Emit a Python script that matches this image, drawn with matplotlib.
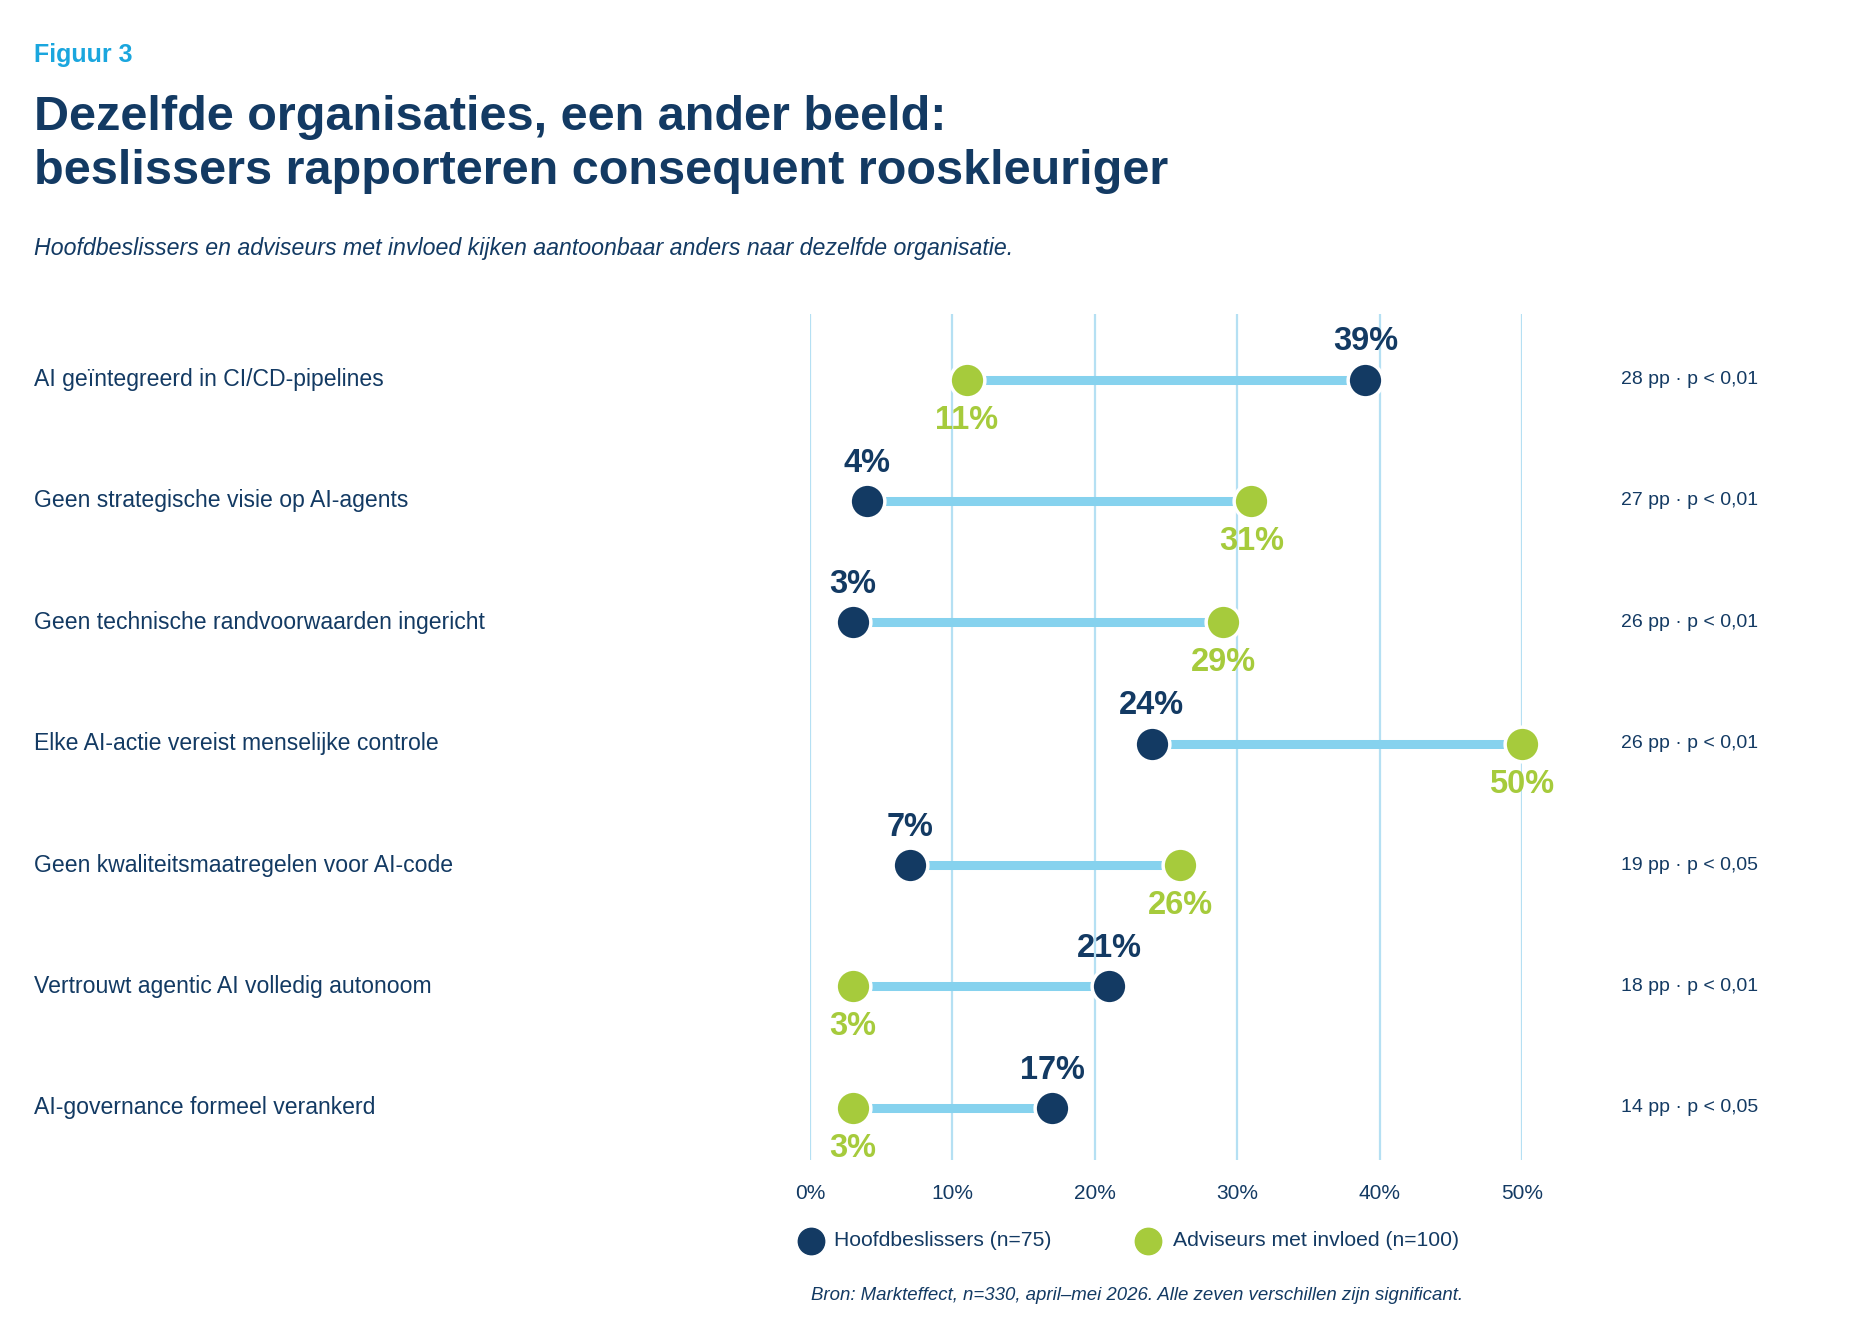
import matplotlib.pyplot as plt
import matplotlib.transforms as mtransforms

plt.rcParams['font.family'] = ['Liberation Sans', 'DejaVu Sans']

# data
categorieen = [
    "AI geïntegreerd in CI/CD-pipelines",
    "Geen strategische visie op AI-agents",
    "Geen technische randvoorwaarden ingericht",
    "Elke AI-actie vereist menselijke controle",
    "Geen kwaliteitsmaatregelen voor AI-code",
    "Vertrouwt agentic AI volledig autonoom",
    "AI-governance formeel verankerd",
]
beslissers = [39, 4, 3, 24, 7, 21, 17]
adviseurs = [11, 31, 29, 50, 26, 3, 3]
verschil = [
    "28 pp · p < 0,01",
    "27 pp · p < 0,01",
    "26 pp · p < 0,01",
    "26 pp · p < 0,01",
    "19 pp · p < 0,05",
    "18 pp · p < 0,01",
    "14 pp · p < 0,05",
]
ticks = [0, 10, 20, 30, 40, 50]

NAVY = '#133a63'
GROEN = '#a6cb3c'
LIJN = '#86d2ee'
GRID = '#b5e0f3'
CYAAN = '#1aa6de'

W, H = 1876, 1326
fig = plt.figure(figsize=(W / 100, H / 100), dpi=100)

# axes placed in pixel terms
x0, x1 = 810, 1522
ytop, ybot = 314, 1160
ax = fig.add_axes([x0 / W, 1 - ybot / H, (x1 - x0) / W, (ybot - ytop) / H])
n = len(categorieen)
ax.set_xlim(0, 50)
ax.set_ylim(n - 1 + 0.43, -0.54)
for s in ax.spines.values():
    s.set_visible(False)
ax.set_yticks([])
ax.set_xticks(ticks)
ax.set_xticklabels([f"{t}%" for t in ticks], fontsize=15, color=NAVY)
ax.tick_params(axis='x', length=0, pad=17)

for t in ticks:
    ax.axvline(t, color=GRID, lw=1.6, zorder=0)

for i in range(n):
    b, a = beslissers[i], adviseurs[i]
    ax.plot([b, a], [i, i], color=LIJN, lw=6.5, solid_capstyle='butt', zorder=1)
    ax.plot(b, i, 'o', ms=25, color=NAVY, mec='white', mew=2.5, zorder=3, clip_on=False)
    ax.plot(a, i, 'o', ms=25, color=GROEN, mec='white', mew=2.5, zorder=3, clip_on=False)
    ax.annotate(f"{b}%", (b, i), xytext=(0, 16), textcoords='offset points',
                ha='center', va='bottom', fontsize=23.5, fontweight='bold', color=NAVY)
    ax.annotate(f"{a}%", (a, i), xytext=(0, -18), textcoords='offset points',
                ha='center', va='top', fontsize=23.5, fontweight='bold', color=GROEN)

trans = mtransforms.blended_transform_factory(fig.transFigure, ax.transData)
for i in range(n):
    ax.text(34 / W, i, categorieen[i], transform=trans, ha='left', va='center',
            fontsize=16.6, color=NAVY)
    ax.text(1621 / W, i, verschil[i], transform=trans, ha='left', va='center',
            fontsize=14, color=NAVY)

# titels
fig.text(34 / W, 1 - 55 / H, "Figuur 3", fontsize=18, fontweight='bold',
         color=CYAAN, va='center')
fig.text(34 / W, 1 - 117 / H, "Dezelfde organisaties, een ander beeld:",
         fontsize=35, fontweight='bold', color=NAVY, va='center')
fig.text(34 / W, 1 - 171 / H, "beslissers rapporteren consequent rooskleuriger",
         fontsize=35, fontweight='bold', color=NAVY, va='center')
fig.text(34 / W, 1 - 248 / H,
         "Hoofdbeslissers en adviseurs met invloed kijken aantoonbaar anders naar dezelfde organisatie.",
         fontsize=16.7, style='italic', color=NAVY, va='center')

# legenda
ly = 1 - 1241 / H
fig.lines.append(plt.Line2D([811 / W], [ly], marker='o', ms=19, color=NAVY,
                            transform=fig.transFigure))
fig.text(834 / W, ly, "Hoofdbeslissers (n=75)", fontsize=15.2, color=NAVY, va='center')
fig.lines.append(plt.Line2D([1148 / W], [ly], marker='o', ms=19, color=GROEN,
                            transform=fig.transFigure))
fig.text(1173 / W, ly, "Adviseurs met invloed (n=100)", fontsize=15.2, color=NAVY, va='center')

fig.text(1137 / W, 1 - 1295 / H,
         "Bron: Markteffect, n=330, april–mei 2026. Alle zeven verschillen zijn significant.",
         fontsize=13.4, style='italic', color=NAVY, ha='center', va='center')

fig.savefig("out.png", dpi=100, facecolor='white')
